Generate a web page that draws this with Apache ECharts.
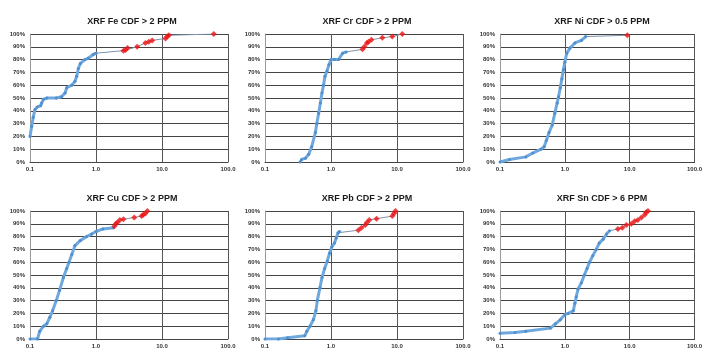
<!DOCTYPE html>
<html>
<head>
<meta charset="utf-8">
<script src="https://cdn.jsdelivr.net/npm/echarts@6/dist/echarts.min.js"></script>
<style>
  html, body { margin: 0; padding: 0; background: #fff; }
  #chart { width: 705px; height: 351px; }
</style>
</head>
<body>
<div id="chart"></div>
<script>
// panel titles
const titles = [
    "XRF Fe CDF > 2 PPM", "XRF Cr CDF > 2 PPM", "XRF Ni CDF > 0.5 PPM",
    "XRF Cu CDF > 2 PPM", "XRF Pb CDF > 2 PPM", "XRF Sn CDF > 6 PPM"
];
const xTicks = ["0.1", "1.0", "10.0", "100.0"];

// [ppm, cumulative %] below threshold (blue) and above (red)
const feBlue = [[0.1, 20], [0.106, 28], [0.112, 35], [0.119, 41], [0.129, 43], [0.145, 44], [0.15, 46], [0.16, 49], [0.18, 50], [0.25, 50], [0.3, 51], [0.34, 54], [0.36, 58], [0.43, 60], [0.48, 63], [0.51, 67], [0.54, 73], [0.58, 77], [0.68, 80], [0.76, 81], [0.91, 84], [1.0, 85]];
const feRed = [[2.6, 87], [2.8, 87.5], [3.0, 89], [4.2, 90], [5.6, 93], [6.3, 94], [7.1, 95], [11.3, 96.5], [12, 98], [12.7, 99], [61, 100]];

const crBlue = [[0.34, 0], [0.36, 2], [0.41, 3], [0.46, 6], [0.51, 12], [0.58, 23], [0.61, 30], [0.65, 38], [0.69, 46], [0.73, 54], [0.77, 60], [0.81, 67], [0.87, 71], [0.93, 76], [1.0, 80], [1.13, 80], [1.3, 80], [1.5, 85], [1.7, 86]];
const crRed = [[3.0, 88], [3.2, 90], [3.5, 93], [3.7, 94], [4.1, 95.5], [6.0, 97], [8.5, 98], [12, 100]];

const niBlue = [[0.1, 0], [0.14, 2], [0.25, 4], [0.32, 7], [0.43, 10], [0.48, 12], [0.52, 17], [0.57, 23], [0.64, 29], [0.7, 38], [0.76, 46], [0.8, 51], [0.85, 58], [0.9, 65], [0.95, 72], [1.0, 78], [1.07, 85], [1.2, 89], [1.43, 93], [1.8, 95], [2.1, 98]];
const niRed = [[9.2, 99]];

const cuBlue = [[0.1, 0], [0.13, 0], [0.14, 6], [0.16, 10], [0.18, 12], [0.2, 17], [0.22, 22], [0.25, 30], [0.28, 38], [0.32, 48], [0.36, 55], [0.39, 60], [0.43, 66], [0.48, 73], [0.58, 77], [0.72, 80], [0.86, 82], [1.0, 84], [1.27, 86], [1.85, 87]];
const cuRed = [[1.9, 88], [2.0, 90], [2.1, 91], [2.3, 93], [2.6, 93.5], [3.8, 95], [4.9, 96], [5.2, 97], [5.6, 98], [6.0, 100]];

const pbBlue = [[0.1, 0], [0.16, 0], [0.22, 1], [0.4, 2.5], [0.43, 6], [0.48, 10], [0.54, 15], [0.59, 22], [0.62, 30], [0.68, 40], [0.73, 48], [0.8, 55], [0.88, 61], [0.95, 67], [1.03, 72], [1.13, 75], [1.2, 79], [1.28, 83], [1.35, 84]];
const pbRed = [[2.6, 85], [2.9, 87], [3.3, 89], [3.5, 91], [3.8, 93], [4.9, 94], [8.5, 96], [9.0, 98], [9.5, 100]];

const snBlue = [[0.1, 4.5], [0.17, 5], [0.25, 6], [0.6, 8.5], [0.72, 12], [0.85, 15], [1.0, 19], [1.13, 20], [1.35, 22], [1.43, 28], [1.5, 33], [1.6, 39], [1.8, 44], [2.0, 50], [2.2, 55], [2.4, 60], [2.7, 65], [3.05, 70], [3.4, 75], [3.9, 78], [4.4, 82], [4.9, 84.5]];
const snRed = [[6.6, 86], [7.7, 87], [8.9, 89], [10.6, 90], [11.9, 92], [13.4, 93], [15.2, 95], [17.1, 97], [18, 99], [19.2, 100]];

const blueSets = [feBlue, crBlue, niBlue, cuBlue, pbBlue, snBlue];
const redSets = [feRed, crRed, niRed, cuRed, pbRed, snRed];

const lefts = [30, 265, 500];
const tops = [34, 211];
const plotW = 198, plotH = 128;

const grid = [], xAxis = [], yAxis = [], title = [], series = [];

for (let i = 0; i < 6; i++) {
    const col = i % 3, row = Math.floor(i / 3);
    grid.push({ left: lefts[col], top: tops[row], width: plotW, height: plotH, containLabel: false });
    title.push({
        text: titles[i],
        left: lefts[col] + plotW / 2 - 2,
        top: tops[row] - 22,
        textAlign: "center",
        textStyle: { fontSize: 9, fontWeight: "bold", color: "#1a1a1a", fontFamily: "Liberation Sans" }
    });
    xAxis.push({
        type: "log", logBase: 10, min: 0.1, max: 100, gridIndex: i,
        axisLine: { show: true, lineStyle: { color: "#444" } },
        axisTick: { show: false },
        axisLabel: {
            fontSize: 6, fontWeight: "bold", color: "#333", margin: 4, fontFamily: "Liberation Sans",
            formatter: v => xTicks[Math.round(Math.log10(v)) + 1]
        },
        splitLine: { show: true, lineStyle: { color: "#555", width: 1 } }
    });
    yAxis.push({
        type: "value", min: 0, max: 100, interval: 10, gridIndex: i,
        axisLine: { show: true, lineStyle: { color: "#999" } },
        axisTick: { show: false },
        axisLabel: { fontSize: 6, fontWeight: "bold", color: "#333", margin: 5, fontFamily: "Liberation Sans", formatter: "{value}%" },
        splitLine: { show: true, lineStyle: { color: "#444", width: 1 } }
    });
    const all = blueSets[i].concat(redSets[i]);
    series.push({
        type: "line", xAxisIndex: i, yAxisIndex: i, data: all,
        symbol: "none", silent: true, animation: false,
        lineStyle: { color: "#7f93ad", width: 1 }, z: 2
    });
    series.push({
        type: "line", xAxisIndex: i, yAxisIndex: i, data: blueSets[i],
        symbol: "circle", symbolSize: 3, animation: false,
        itemStyle: { color: "#4f8fcf" },
        lineStyle: { color: "#6fa8dc", width: 3 }, z: 3
    });
    series.push({
        type: "scatter", xAxisIndex: i, yAxisIndex: i, data: redSets[i],
        symbol: "diamond", symbolSize: 6, animation: false,
        itemStyle: { color: "#ee1111" }, z: 4
    });
}

const chart = echarts.init(document.getElementById("chart"), null, { renderer: "canvas" });
chart.setOption({ backgroundColor: "#fff", animation: false, title, grid, xAxis, yAxis, series });
</script>
</body>
</html>
